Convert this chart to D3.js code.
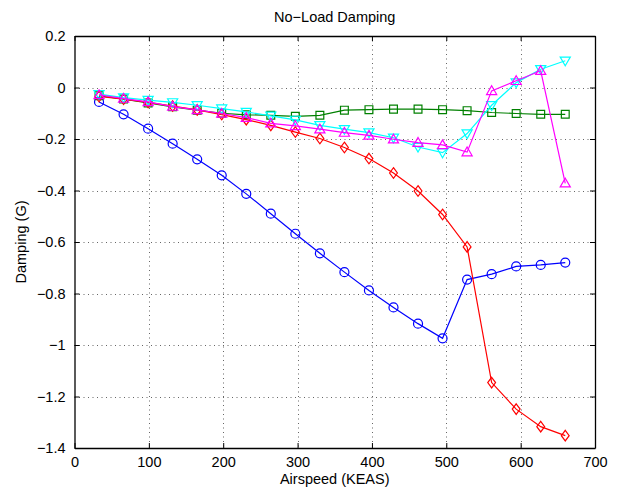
<!DOCTYPE html>
<html><head><meta charset="utf-8">
<script src="https://cdn.jsdelivr.net/npm/d3@7"></script>
<style>body{margin:0;background:#fff}svg{display:block}text{font-family:"Liberation Sans",Arial,Helvetica,sans-serif}</style>
</head><body>
<script>
const airspeed = [33,66,99,132,165,198,231,264,297,330,363,396,429,462,495,528,561,594,627,660];
const blueCircle = [-0.056,-0.104,-0.160,-0.218,-0.279,-0.341,-0.413,-0.490,-0.568,-0.644,-0.717,-0.788,-0.854,-0.917,-0.974,-0.746,-0.725,-0.695,-0.689,-0.680];
const greenSquare = [-0.032,-0.045,-0.060,-0.075,-0.088,-0.100,-0.106,-0.108,-0.112,-0.108,-0.088,-0.086,-0.084,-0.084,-0.086,-0.090,-0.097,-0.101,-0.104,-0.104];
const redDiamond = [-0.035,-0.045,-0.058,-0.072,-0.087,-0.105,-0.125,-0.147,-0.173,-0.198,-0.233,-0.276,-0.332,-0.402,-0.493,-0.619,-1.146,-1.249,-1.317,-1.352];
const cyanDown = [-0.026,-0.039,-0.049,-0.058,-0.069,-0.082,-0.095,-0.110,-0.126,-0.147,-0.162,-0.175,-0.195,-0.231,-0.253,-0.179,-0.069,0.019,0.071,0.104];
const magentaUp = [-0.029,-0.043,-0.056,-0.074,-0.087,-0.101,-0.117,-0.139,-0.149,-0.162,-0.175,-0.186,-0.201,-0.214,-0.223,-0.251,-0.013,0.026,0.065,-0.372];
const xTicks = [0,100,200,300,400,500,600,700];
const yTicks = [0.2,0,-0.2,-0.4,-0.6,-0.8,-1,-1.2,-1.4];
const titleText = "No\u2212Load Damping";
const xLabel = "Airspeed (KEAS)";
const yLabel = "Damping (G)";

const W = 620, H = 489;
const L = 74.5, R = 595, T = 36, B = 448;
const svg = d3.select("body").append("svg").attr("width", W).attr("height", H);
const x = d3.scaleLinear().domain([0,700]).range([L,R]);
const y = d3.scaleLinear().domain([-1.4,0.2]).range([B,T]);
const fmt = v => (v < 0 ? "\u2212" : "") + String(Math.abs(Math.round(v*10)/10));

// grid
const grid = svg.append("g").attr("stroke","#666").attr("stroke-width",1).attr("stroke-dasharray","1,3.5");
grid.selectAll("line.gx").data(xTicks.slice(1,-1)).join("line")
  .attr("x1",d=>Math.round(x(d))+0.5).attr("x2",d=>Math.round(x(d))+0.5).attr("y1",T).attr("y2",B);
grid.selectAll("line.gy").data(yTicks.slice(1,-1)).join("line")
  .attr("y1",d=>Math.round(y(d))+0.5).attr("y2",d=>Math.round(y(d))+0.5).attr("x1",L).attr("x2",R);

// axes
const axB = svg.append("g").attr("transform",`translate(0,${B})`)
  .call(d3.axisBottom(x).tickValues(xTicks).tickSizeInner(-5).tickSizeOuter(0).tickPadding(9).tickFormat(d=>String(d)));
const axT = svg.append("g").attr("transform",`translate(0,${T})`)
  .call(d3.axisTop(x).tickValues(xTicks).tickSizeInner(-5).tickSizeOuter(0).tickFormat(""));
const axL = svg.append("g").attr("transform",`translate(${L},0)`)
  .call(d3.axisLeft(y).tickValues(yTicks).tickSizeInner(-5).tickSizeOuter(0).tickPadding(9).tickFormat(fmt));
const axR = svg.append("g").attr("transform",`translate(${R},0)`)
  .call(d3.axisRight(y).tickValues(yTicks).tickSizeInner(-5).tickSizeOuter(0).tickFormat(""));
[axB,axT,axL,axR].forEach(a=>{
  a.select(".domain").attr("stroke","#000").attr("stroke-width",1.3);
  a.selectAll(".tick line").attr("stroke","#000");
  a.selectAll("text").attr("fill","#000").attr("font-size",14.5).attr("font-family","Liberation Sans, Arial, sans-serif");
});

// series
const series = [
  {vals: blueCircle, color:"#0000ff", shape:"circle"},
  {vals: greenSquare, color:"#008000", shape:"square"},
  {vals: redDiamond, color:"#ff0000", shape:"diamond"},
  {vals: cyanDown, color:"#00ffff", shape:"down"},
  {vals: magentaUp, color:"#ff00ff", shape:"up"}
];
const line = d3.line().x(d=>x(d[0])).y(d=>y(d[1]));
function markerPath(shape){
  const s = 4.6;
  switch(shape){
    case "square": return `M${-s*0.85},${-s*0.85}H${s*0.85}V${s*0.85}H${-s*0.85}Z`;
    case "diamond": return `M0,${-s*1.15}L${s*0.85},0L0,${s*1.15}L${-s*0.85},0Z`;
    case "up": return `M0,${-s*1.1}L${s*1.1},${s*0.8}L${-s*1.1},${s*0.8}Z`;
    case "down": return `M0,${s*1.1}L${s*1.1},${-s*0.8}L${-s*1.1},${-s*0.8}Z`;
  }
}
series.forEach(s=>{
  const pts = airspeed.map((a,i)=>[a,s.vals[i]]);
  const g = svg.append("g");
  g.append("path").attr("d",line(pts)).attr("fill","none").attr("stroke",s.color).attr("stroke-width",1.2);
  if(s.shape==="circle"){
    g.selectAll("circle").data(pts).join("circle").attr("cx",d=>x(d[0])).attr("cy",d=>y(d[1])).attr("r",4.5)
      .attr("fill","none").attr("stroke",s.color).attr("stroke-width",1.2);
  } else {
    g.selectAll("path.m").data(pts).join("path").attr("class","m")
      .attr("transform",d=>`translate(${x(d[0])},${y(d[1])})`).attr("d",markerPath(s.shape))
      .attr("fill","none").attr("stroke",s.color).attr("stroke-width",1.2);
  }
});

// labels
svg.append("text").attr("x",(L+R)/2).attr("y",22).attr("text-anchor","middle").attr("font-size",14.5).text(titleText);
svg.append("text").attr("x",(L+R)/2).attr("y",484).attr("text-anchor","middle").attr("font-size",14.5).text(xLabel);
svg.append("text").attr("transform",`translate(26,${(T+B)/2}) rotate(-90)`).attr("text-anchor","middle").attr("font-size",14.5).text(yLabel);
</script>
</body></html>
